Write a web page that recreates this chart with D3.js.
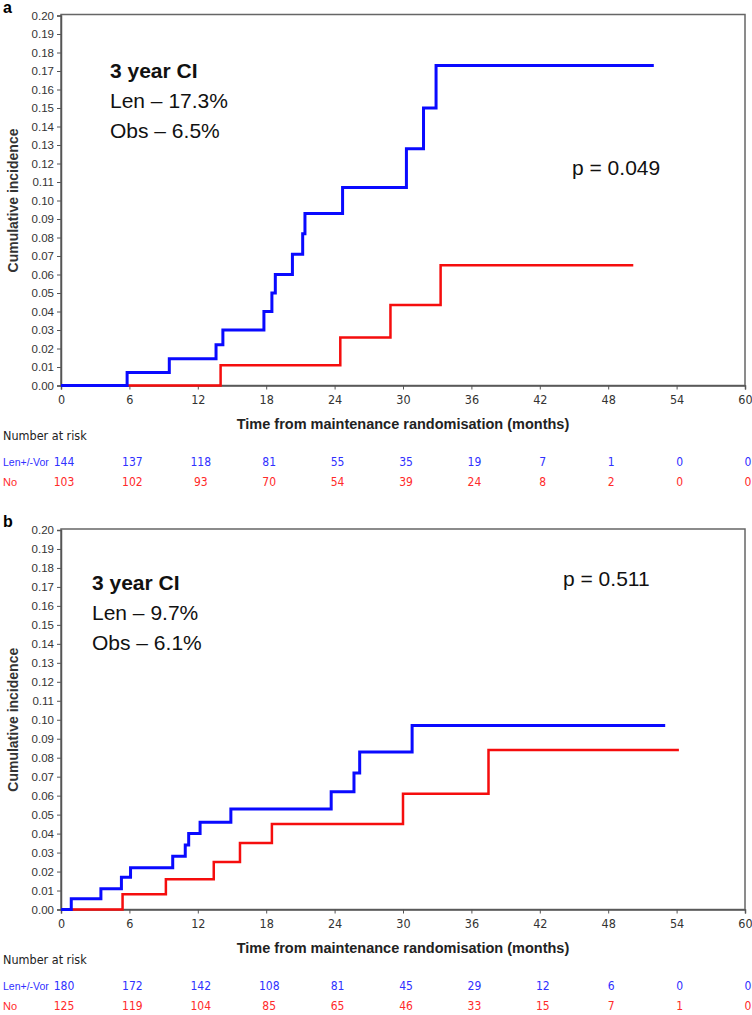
<!DOCTYPE html>
<html>
<head>
<meta charset="utf-8">
<script src="https://cdn.jsdelivr.net/npm/d3@7"></script>
<style>
  body { margin: 0; background: #fff; }
  svg { display: block; }
</style>
</head>
<body>
<div id="chart"></div>
<script>
// x axis ticks (months) and y axis ticks (cumulative incidence)
var monthTicks = [0, 6, 12, 18, 24, 30, 36, 42, 48, 54, 60];
var ciTicks = [0, 0.01, 0.02, 0.03, 0.04, 0.05, 0.06, 0.07, 0.08, 0.09, 0.10,
               0.11, 0.12, 0.13, 0.14, 0.15, 0.16, 0.17, 0.18, 0.19, 0.20];

// panel a step curves
var aLenTime = [0, 5.8, 9.5, 13.6, 14.2, 17.8, 18.5, 18.8, 20.3, 21.2, 21.4, 24.7, 30.3, 31.8, 32.9, 52.0];
var aLenCI   = [0, 0.007, 0.0145, 0.022, 0.030, 0.040, 0.050, 0.060, 0.071, 0.082, 0.093, 0.107, 0.128, 0.150, 0.173, 0.173];
var aObsTime = [0, 14.0, 24.5, 28.9, 33.3, 50.2];
var aObsCI   = [0, 0.011, 0.026, 0.0435, 0.065, 0.065];

// panel b step curves
var bLenTime = [0, 0.9, 3.5, 5.3, 6.1, 9.8, 10.9, 11.2, 12.2, 14.9, 23.7, 25.7, 26.2, 30.8, 53.0];
var bLenCI   = [0, 0.0056, 0.011, 0.017, 0.022, 0.028, 0.034, 0.040, 0.046, 0.053, 0.062, 0.072, 0.083, 0.097, 0.097];
var bObsTime = [0, 5.4, 9.2, 13.4, 15.7, 18.5, 30.0, 37.5, 54.2];
var bObsCI   = [0, 0.008, 0.016, 0.025, 0.035, 0.045, 0.061, 0.084, 0.084];

// number at risk
var aRiskLen = [144, 137, 118, 81, 55, 35, 19, 7, 1, 0, 0];
var aRiskNo  = [103, 102, 93, 70, 54, 39, 24, 8, 2, 0, 0];
var bRiskLen = [180, 172, 142, 108, 81, 45, 29, 12, 6, 0, 0];
var bRiskNo  = [125, 119, 104, 85, 65, 46, 33, 15, 7, 1, 0];

var blue = "#0a0aff";
var red = "#f50d0d";
var blueText = "#3030ff";
var redText = "#ff2a2a";
var narrow = "'DejaVu Sans Condensed', 'Liberation Sans Narrow', sans-serif";
var sans = "'Liberation Sans', Arial, sans-serif";

var width = 752, height = 1015;

var svg = d3.select("#chart")
    .append("svg")
    .attr("width", width)
    .attr("height", height);

var x = d3.scaleLinear().domain([0, 60]).range([61, 745]);

function drawPanel(p) {
    var y = d3.scaleLinear().domain([0, 0.20]).range([p.bottom, p.top]);
    var g = svg.append("g");

    // frame
    g.append("rect")
        .attr("x", x(0))
        .attr("y", p.top - 1)
        .attr("width", x(60) - x(0))
        .attr("height", p.bottom - p.top + 1)
        .attr("fill", "none")
        .attr("stroke", "#666")
        .attr("stroke-width", 1.5);

    var yAxis = g.append("g")
        .attr("transform", "translate(" + x(0) + ",0)")
        .call(d3.axisLeft(y).tickValues(ciTicks).tickFormat(d3.format(".2f")).tickSize(4));
    yAxis.select(".domain").attr("stroke", "#555").attr("stroke-width", 1.5);
    yAxis.selectAll(".tick line").attr("stroke", "#555");
    yAxis.selectAll("text")
        .attr("font-family", sans)
        .attr("font-size", 11.5)
        .attr("fill", "#333")
        .attr("x", -7);

    var xAxis = g.append("g")
        .attr("transform", "translate(0," + p.bottom + ")")
        .call(d3.axisBottom(x).tickValues(monthTicks).tickSize(4));
    xAxis.select(".domain").attr("stroke", "#555").attr("stroke-width", 1.5);
    xAxis.selectAll(".tick line").attr("stroke", "#555");
    xAxis.selectAll("text")
        .attr("font-family", narrow)
        .attr("font-size", 12.5)
        .attr("fill", "#333")
        .attr("y", 10);

    g.append("text")
        .text("Cumulative incidence")
        .attr("transform", "translate(18," + (p.top + p.bottom) / 2 + ") rotate(-90)")
        .attr("text-anchor", "middle")
        .attr("font-family", sans)
        .attr("font-weight", "bold")
        .attr("font-size", 14)
        .attr("fill", "#333");

    g.append("text")
        .text("Time from maintenance randomisation (months)")
        .attr("x", x(30))
        .attr("y", p.bottom + 43)
        .attr("text-anchor", "middle")
        .attr("font-family", sans)
        .attr("font-weight", "bold")
        .attr("font-size", 14.5)
        .attr("fill", "#222");

    // curves
    var line = d3.line()
        .x(function (d) { return x(d[0]); })
        .y(function (d) { return y(d[1]); })
        .curve(d3.curveStepAfter);

    g.append("path")
        .datum(d3.zip(p.obsTime, p.obsCI))
        .attr("d", line)
        .attr("fill", "none")
        .attr("stroke", red)
        .attr("stroke-width", 2.5);

    g.append("path")
        .datum(d3.zip(p.lenTime, p.lenCI))
        .attr("d", line)
        .attr("fill", "none")
        .attr("stroke", blue)
        .attr("stroke-width", 3);

    // annotations
    g.append("text")
        .text(p.label)
        .attr("x", 3)
        .attr("y", p.top - 3)
        .attr("font-family", sans)
        .attr("font-weight", "bold")
        .attr("font-size", 16)
        .attr("fill", "#000");

    var ann = g.append("text")
        .attr("font-family", sans)
        .attr("font-size", 21)
        .attr("fill", "#111");
    ann.append("tspan").text("3 year CI")
        .attr("x", p.annX).attr("y", p.annY)
        .attr("font-weight", "bold");
    ann.append("tspan").text(p.lenText)
        .attr("x", p.annX).attr("y", p.annY + 30);
    ann.append("tspan").text(p.obsText)
        .attr("x", p.annX).attr("y", p.annY + 60);

    g.append("text")
        .text(p.pText)
        .attr("x", p.pX)
        .attr("y", p.pY)
        .attr("font-family", sans)
        .attr("font-size", 21)
        .attr("fill", "#111");

    // number at risk table
    g.append("text")
        .text("Number at risk")
        .attr("x", 3)
        .attr("y", p.bottom + 54)
        .attr("font-family", narrow)
        .attr("font-size", 12.5)
        .attr("fill", "#222");

    g.append("text")
        .text("Len+/-Vor")
        .attr("x", 3)
        .attr("y", p.bottom + 80)
        .attr("font-family", sans)
        .attr("font-size", 10.5)
        .attr("fill", blueText);

    g.append("text")
        .text("No")
        .attr("x", 3)
        .attr("y", p.bottom + 100)
        .attr("font-family", sans)
        .attr("font-size", 11)
        .attr("fill", redText);

    g.selectAll(".riskLen")
        .data(p.riskLen)
        .enter().append("text")
        .text(function (d) { return d; })
        .attr("x", function (d, i) { return x(monthTicks[i]) + 3; })
        .attr("y", p.bottom + 80)
        .attr("text-anchor", "middle")
        .attr("font-family", narrow)
        .attr("font-size", 12)
        .attr("fill", blueText);

    g.selectAll(".riskNo")
        .data(p.riskNo)
        .enter().append("text")
        .text(function (d) { return d; })
        .attr("x", function (d, i) { return x(monthTicks[i]) + 3; })
        .attr("y", p.bottom + 100)
        .attr("text-anchor", "middle")
        .attr("font-family", narrow)
        .attr("font-size", 12)
        .attr("fill", redText);
}

drawPanel({
    label: "a", top: 15.5, bottom: 385.5,
    lenTime: aLenTime, lenCI: aLenCI, obsTime: aObsTime, obsCI: aObsCI,
    riskLen: aRiskLen, riskNo: aRiskNo,
    annX: 110, annY: 78, lenText: "Len \u2013 17.3%", obsText: "Obs \u2013 6.5%",
    pText: "p = 0.049", pX: 572, pY: 175
});

drawPanel({
    label: "b", top: 530, bottom: 909.5,
    lenTime: bLenTime, lenCI: bLenCI, obsTime: bObsTime, obsCI: bObsCI,
    riskLen: bRiskLen, riskNo: bRiskNo,
    annX: 92, annY: 590, lenText: "Len \u2013 9.7%", obsText: "Obs \u2013 6.1%",
    pText: "p = 0.511", pX: 563, pY: 586
});
</script>
</body>
</html>
